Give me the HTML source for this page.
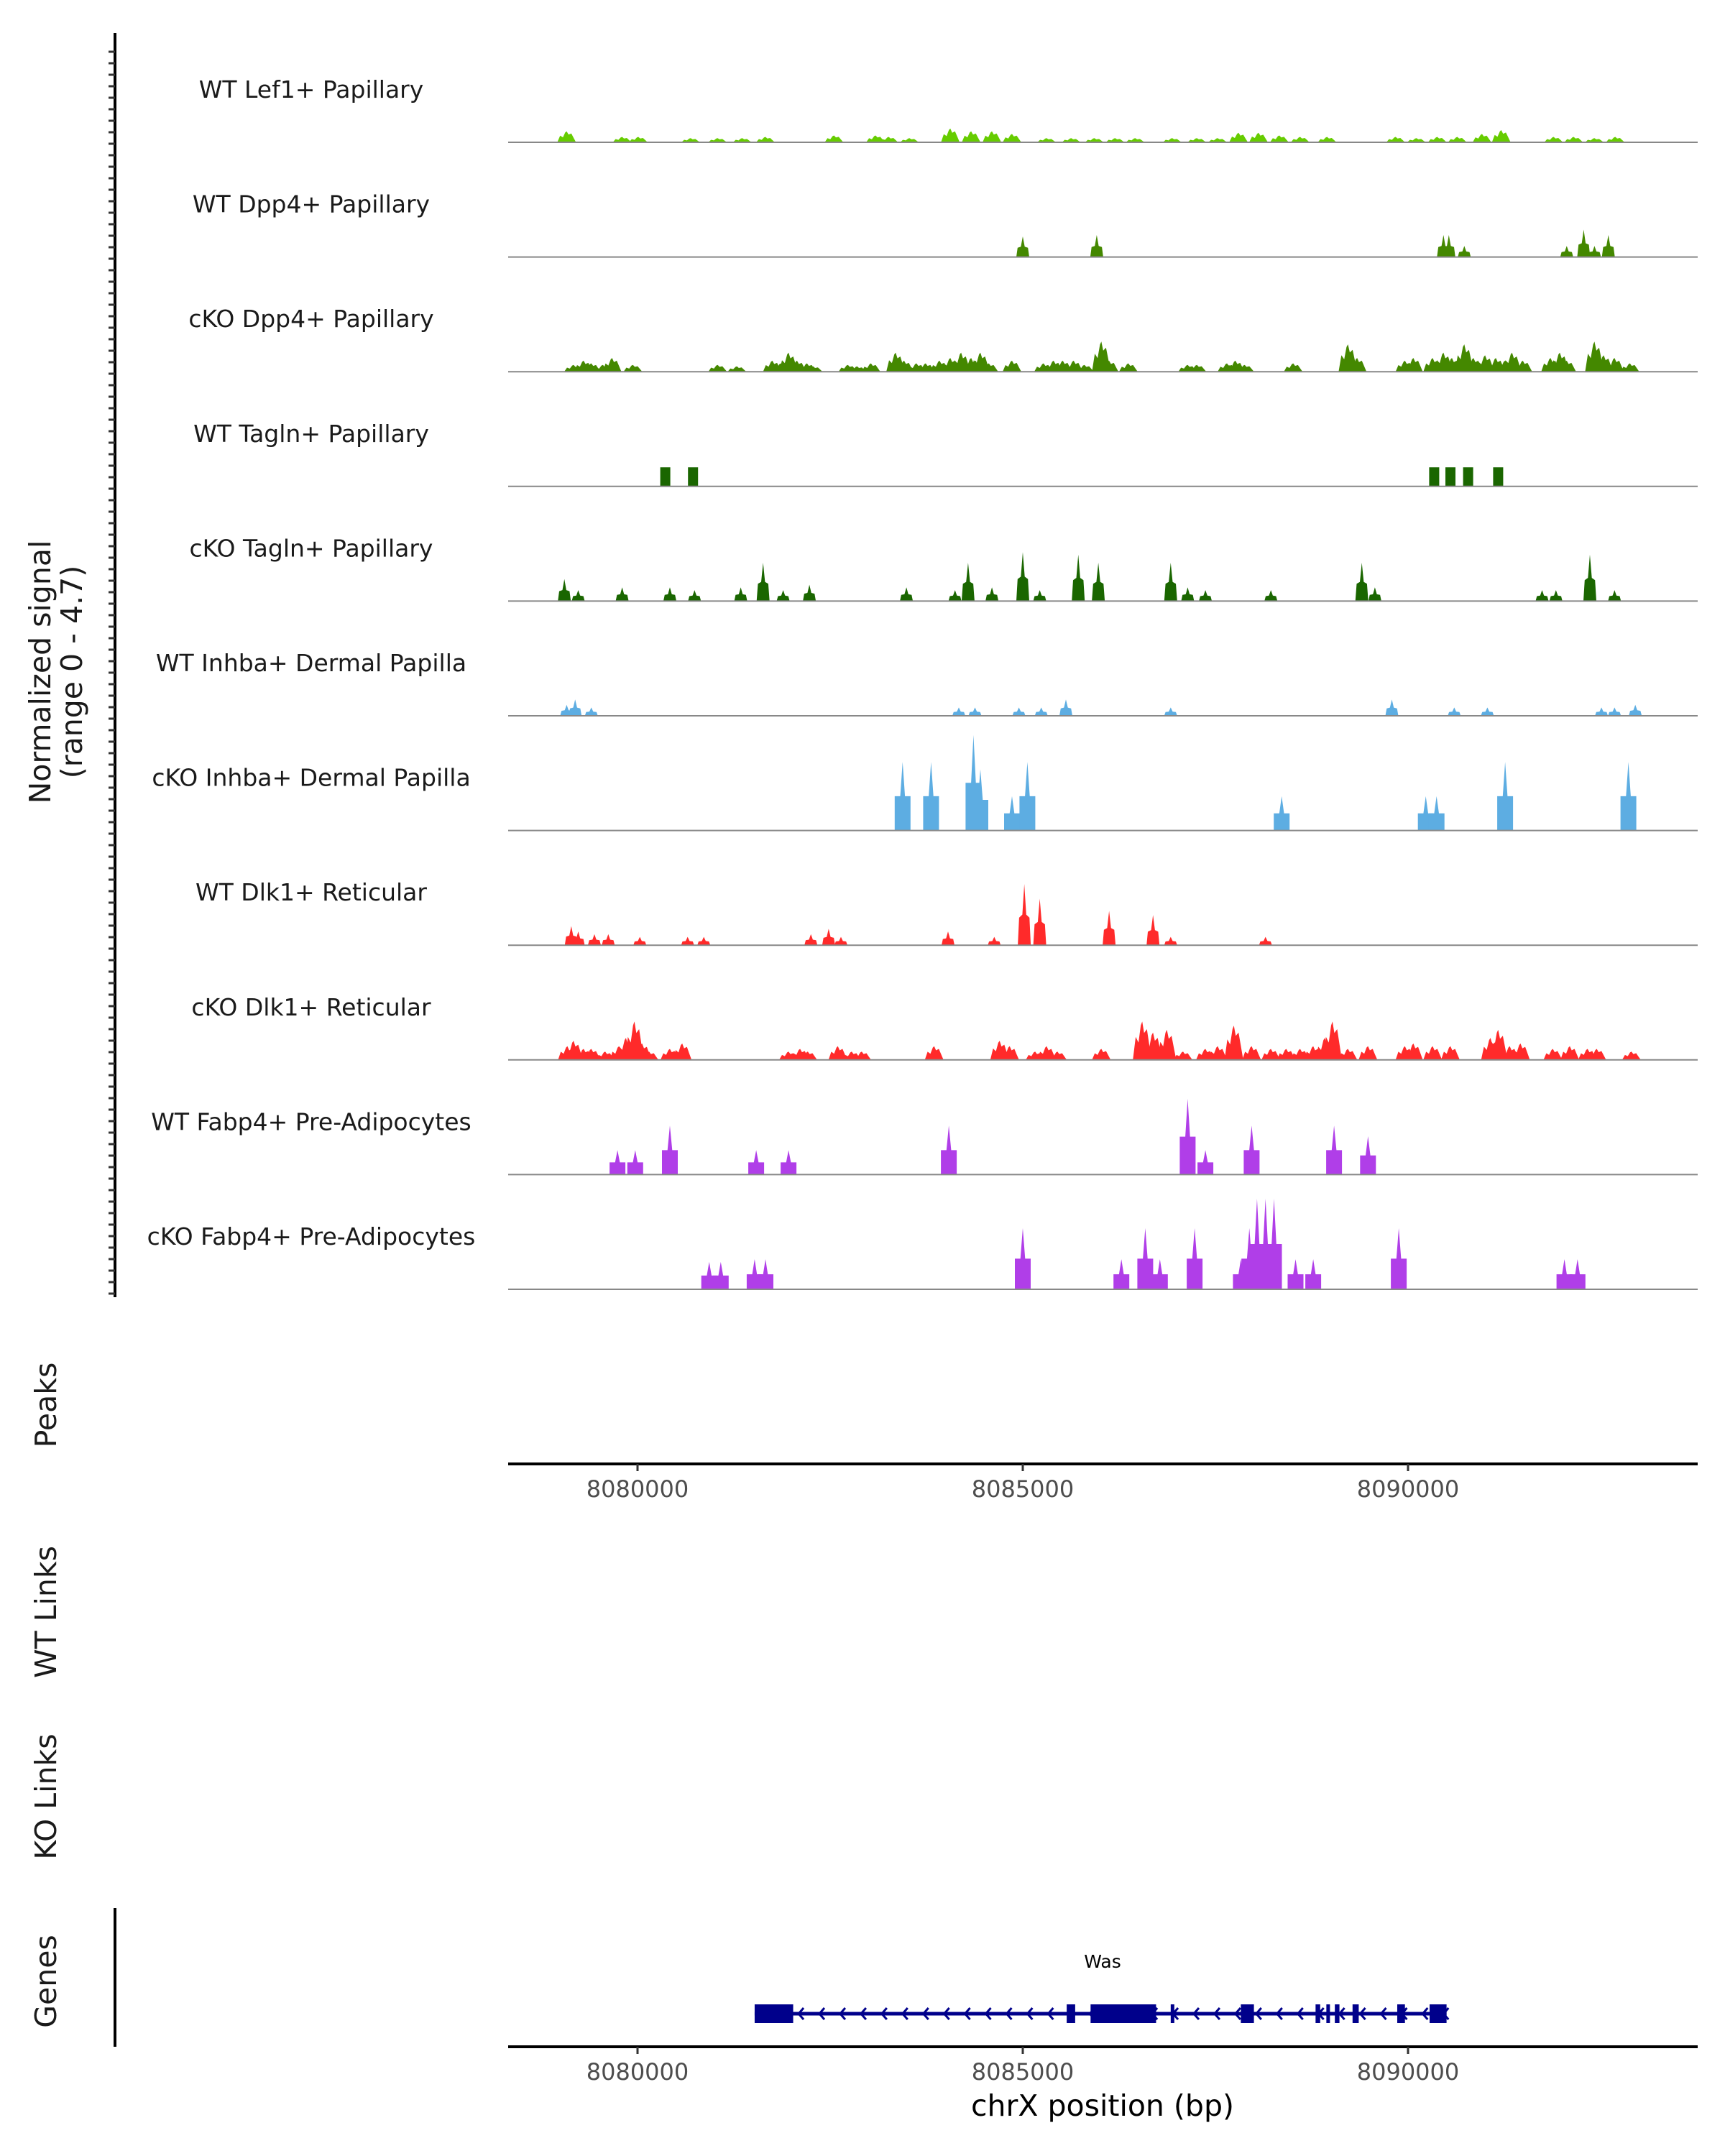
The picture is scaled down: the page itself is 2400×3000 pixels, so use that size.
<!DOCTYPE html>
<html><head><meta charset="utf-8"><style>
html,body{margin:0;padding:0;background:#fff;}
svg{display:block;font-family:"DejaVu Sans","Liberation Sans",sans-serif;}
</style></head><body>
<svg id="chart" width="2400" height="3000" viewBox="0 0 2400 3000" xmlns="http://www.w3.org/2000/svg">
<g id="tracks"></g>
<g id="axes"></g>
<g id="genes"></g>
</svg>
<script>
// genomic positions in kb offset from 8,080,000; values in normalized signal
const trackNames = ["WT Lef1+ Papillary","WT Dpp4+ Papillary","cKO Dpp4+ Papillary","WT Tagln+ Papillary","cKO Tagln+ Papillary","WT Inhba+ Dermal Papilla","cKO Inhba+ Dermal Papilla","WT Dlk1+ Reticular","cKO Dlk1+ Reticular","WT Fabp4+ Pre-Adipocytes","cKO Fabp4+ Pre-Adipocytes"];
const trackColors = ["#66cc00","#448800","#448800","#1a6600","#1a6600","#5dade2","#5dade2","#ff2a2a","#ff2a2a","#b03ee8","#b03ee8"];
const lef1WT = [[-1.00,.45],[-0.28,.22],[-0.07,.22],[0.61,.17],[0.96,.17],[1.28,.17],[1.58,.22],[2.47,.28],[3.01,.28],[3.18,.22],[3.45,.17],[3.98,.56],[4.25,.45],[4.52,.45],[4.78,.34],[5.23,.17],[5.55,.17],[5.85,.17],[6.12,.17],[6.38,.17],[6.86,.17],[7.18,.17],[7.45,.17],[7.72,.39],[7.98,.39],[8.25,.28],[8.52,.22],[8.87,.22],[9.76,.22],[10.03,.17],[10.30,.22],[10.56,.22],[10.88,.34],[11.13,.5],[11.81,.22],[12.07,.22],[12.34,.17],[12.61,.22]];
const dpp4WT = [[4.92,.84],[5.88,.9],[10.38,.9],[10.45,.9],[10.65,.45],[11.98,.45],[12.20,1.12],[12.34,.45],[12.52,.9]];
const dpp4KO = [[-0.91,.28],[-0.78,.45],[-0.68,.34],[-0.53,.28],[-0.41,.56],[-0.14,.28],[0.96,.28],[1.21,.22],[1.67,.45],[1.78,.34],[1.88,.78],[1.99,.45],[2.12,.34],[2.20,.22],[2.65,.28],[2.77,.22],[2.95,.34],[3.27,.78],[3.38,.45],[3.54,.34],[3.66,.34],[3.84,.45],[3.98,.56],[4.12,.78],[4.25,.56],[4.37,.78],[4.48,.34],[4.78,.45],[5.19,.34],[5.32,.45],[5.44,.45],[5.58,.45],[5.72,.28],[5.94,1.23],[6.04,.45],[6.29,.34],[7.06,.28],[7.18,.28],[7.57,.34],[7.68,.45],[7.80,.28],[8.43,.34],[9.14,1.12],[9.26,.56],[9.88,.45],[9.99,.56],[10.24,.56],[10.38,.78],[10.49,.56],[10.65,1.12],[10.77,.56],[10.92,.67],[11.06,.56],[11.18,.45],[11.27,.78],[11.41,.45],[11.77,.56],[11.89,.78],[11.98,.45],[12.34,1.23],[12.46,.67],[12.60,.56],[12.80,.34]];
const taglnWT = [[0.28,.78],[0.64,.78],[10.26,.78],[10.47,.78],[10.70,.78],[11.09,.78]];
const taglnKO = [[-1.03,.9],[-0.85,.45],[-0.28,.56],[0.34,.56],[0.66,.45],[1.26,.56],[1.55,1.57],[1.81,.45],[2.15,.67],[3.41,.56],[4.04,.45],[4.21,1.57],[4.52,.56],[4.92,2.0],[5.14,.45],[5.64,1.9],[5.90,1.57],[6.84,1.57],[7.06,.56],[7.29,.45],[8.14,.45],[9.32,1.57],[9.49,.56],[11.66,.45],[11.84,.45],[12.28,1.9],[12.60,.45]];
const inhbaWT = [[-1.0,.45],[-0.89,.67],[-0.68,.34],[4.09,.34],[4.30,.34],[4.87,.34],[5.16,.34],[5.48,.67],[6.84,.34],[9.71,.67],[10.52,.34],[10.95,.34],[12.43,.34],[12.60,.34],[12.87,.45]];
const inhbaKO = [[3.36,2.8],[3.73,2.8],[4.28,3.9],[4.37,2.5],[4.78,1.4],[4.98,2.8],[8.28,1.4],[10.15,1.4],[10.29,1.4],[11.18,2.8],[12.78,2.8]];
const dlk1WT = [[-0.94,.78],[-0.85,.56],[-0.64,.45],[-0.46,.45],[-0.05,.34],[0.57,.34],[0.78,.34],[2.17,.45],[2.40,.67],[2.56,.34],[3.95,.56],[4.55,.34],[4.94,2.5],[5.14,1.9],[6.04,1.4],[6.61,1.23],[6.84,.34],[8.07,.34]];
const dlk1KO = [[-0.99,.56],[-0.91,.78],[-0.78,.45],[-0.68,.45],[-0.50,.34],[-0.32,.56],[-0.23,.9],[-0.12,1.57],[-0.02,.67],[0.07,.34],[0.34,.45],[0.50,.67],[1.88,.34],[2.03,.45],[2.13,.34],[2.52,.56],[2.70,.34],[2.83,.34],[3.77,.56],[4.62,.78],[4.75,.56],[5.08,.34],[5.23,.56],[5.37,.34],[5.94,.45],[6.47,1.57],[6.61,1.12],[6.79,1.23],[7.00,.34],[7.29,.45],[7.45,.56],[7.66,1.4],[7.89,.56],[8.14,.45],[8.34,.45],[8.52,.45],[8.69,.56],[8.84,.9],[8.94,1.57],[9.14,.45],[9.40,.56],[9.88,.56],[9.99,.67],[10.24,.56],[10.47,.56],[10.99,.9],[11.09,1.23],[11.24,.56],[11.38,.67],[11.80,.45],[12.02,.56],[12.25,.45],[12.37,.45],[12.82,.34]];
const fabp4WT = [[-0.34,1.0],[-0.11,1.0],[0.34,2.0],[1.46,1.0],[1.88,1.0],[3.96,2.0],[7.06,3.1],[7.29,1.0],[7.89,2.0],[8.96,2.0],[9.40,1.57]];
const fabp4KO = [[0.85,1.12],[1.0,1.12],[1.44,1.23],[1.58,1.23],[4.92,2.5],[6.20,1.23],[6.51,2.5],[6.70,1.23],[7.15,2.5],[7.75,1.23],[7.86,2.5],[7.96,3.7],[8.07,3.7],[8.18,3.7],[8.46,1.23],[8.69,1.23],[9.80,2.5],[11.95,1.23],[12.12,1.23]];
const trackData = [lef1WT,dpp4WT,dpp4KO,taglnWT,taglnKO,inhbaWT,inhbaKO,dlk1WT,dlk1KO,fabp4WT,fabp4KO];
const trackShape = ["noise","spike","noise","block","spike","spike","shoulder","spike","noise","shoulder","shoulder"];
const tickValues = [8080000,8085000,8090000];
const tickLabels = ["8080000","8085000","8090000"];
const geneExons = [[1.44,1.94],[5.49,5.60],[5.80,6.65],[6.84,6.88],[7.75,7.92],[8.72,8.78],[8.86,8.88],[8.97,9.03],[9.20,9.28],[9.78,9.88],[10.20,10.42]];
const geneSpan = [1.44,10.42];
const dataOffsetKb = 0.08;

const NS="http://www.w3.org/2000/svg";
const X0=707, X1=2362;
const xkb = kb => 887 + kb*107.2;
const xd = kb => xkb(kb + dataOffsetKb);
const xbp = bp => xkb((bp-8080000)/1000);
const yv = v => v*160/4.7;
function mk(tag, attrs, parent){const e=document.createElementNS(NS,tag);for(const k in attrs)e.setAttribute(k,attrs[k]);parent.appendChild(e);return e;}
const gT=document.getElementById('tracks'), gA=document.getElementById('axes'), gG=document.getElementById('genes');

trackNames.forEach((name,i)=>{
  const base=198+i*159.6;
  const g=mk('g',{},gT);
  
  
  const lab=mk('text',{x:433,y:base-62,'text-anchor':'middle','font-size':33,fill:'#1a1a1a'},g);
  lab.textContent=name;
  
  
  const shape=trackShape[i];
  trackData[i].forEach(([kb,v])=>{
    const c=xd(kb), h=yv(v); let pts;
    if(shape==='noise'){const w=13;pts=[[c-w,0],[c-w*0.7,h*0.6],[c-w*0.4,h*0.45],[c-w*0.15,h*0.9],[c,h],[c+w*0.2,h*0.7],[c+w*0.5,h*0.8],[c+w*0.75,h*0.4],[c+w,0]];}
    else if(shape==='block'){const w=7;pts=[[c-w,0],[c-w,h],[c+w,h],[c+w,0]];}
    else if(shape==='spike'){const w=9;pts=[[c-w,0],[c-w*0.8,h*0.45],[c-w*0.3,h*0.5],[c,h],[c+w*0.3,h*0.5],[c+w*0.8,h*0.45],[c+w,0]];}
    else {const w=11;pts=[[c-w,0],[c-w,h*0.5],[c-w*0.3,h*0.5],[c,h],[c+w*0.3,h*0.5],[c+w,h*0.5],[c+w,0]];}
    const p=mk('polygon',{points:pts.map(q=>q[0].toFixed(1)+','+(base-q[1]).toFixed(1)).join(' '),fill:trackColors[i]},g);
    
    
  });
  const bl=mk('line',{x1:X0,x2:X1,y1:base,y2:base,stroke:'#888','stroke-width':2},g);
  
  
});

const ya=mk('line',{x1:160,x2:160,y1:46,y2:1805,stroke:'#000','stroke-width':4},gA);


for(let y=72;y<1805;y+=16){const t=mk('line',{x1:151,x2:160,y1:y,y2:y,stroke:'#333','stroke-width':3},gA);

}

function leftTitle(txt,cy,name,lines){
  const t=mk('text',{transform:`translate(78,${cy}) rotate(-90)`,'text-anchor':'middle','font-size':41,fill:'#1a1a1a'},gA);
  if(lines){lines.forEach((l,k)=>{const s=mk('tspan',{x:0,dy:k===0?-8:44},t);s.textContent=l;});}
  else t.textContent=txt;
  
  
}
leftTitle('',935,'y-axis-title',['Normalized signal','(range 0 - 4.7)']);
leftTitle('Peaks',1955,'peaks-label');
leftTitle('WT Links',2243,'wt-links-label');
leftTitle('KO Links',2500,'ko-links-label');
leftTitle('Genes',2757,'genes-label');

function xAxis(y,name){
  const l=mk('line',{x1:X0,x2:X1,y1:y,y2:y,stroke:'#000','stroke-width':4},gA);
  
  
  tickValues.forEach((v,k)=>{
    const x=xbp(v);
    const t=mk('line',{x1:x,x2:x,y1:y,y2:y+10,stroke:'#333','stroke-width':3},gA);
    
    
    const tx=mk('text',{x:x,y:y+46,'text-anchor':'middle','font-size':32,fill:'#4d4d4d'},gA);
    tx.textContent=tickLabels[k];
    
    
  });
}
xAxis(2037,'peaks-x-axis');
xAxis(2848,'genes-x-axis');
const xt=mk('text',{x:1534,y:2944,'text-anchor':'middle','font-size':41,fill:'#000'},gA);
xt.textContent='chrX position (bp)';



const gl=mk('line',{x1:160,x2:160,y1:2655,y2:2848,stroke:'#000','stroke-width':4},gG);


const gy=2802;
const gline=mk('line',{x1:xd(geneSpan[0]),x2:xd(geneSpan[1]),y1:gy,y2:gy,stroke:'#00008b','stroke-width':5},gG);


for(let kb=geneSpan[0]+0.3;kb<geneSpan[1];kb+=0.27){
  const x=xd(kb);
  const a=mk('polyline',{points:`${x+7},${gy-8} ${x},${gy} ${x+7},${gy+8}`,fill:'none',stroke:'#00008b','stroke-width':3},gG);
  
  
}
geneExons.forEach(([s,e])=>{
  const r=mk('rect',{x:xd(s),y:gy-13,width:Math.max(5,xd(e)-xd(s)),height:26,fill:'#00008b'},gG);
  
  
});
const gn=mk('text',{x:1534,y:2738,'text-anchor':'middle','font-size':25,fill:'#000'},gG);
gn.textContent='Was';


</script>
</body></html>
